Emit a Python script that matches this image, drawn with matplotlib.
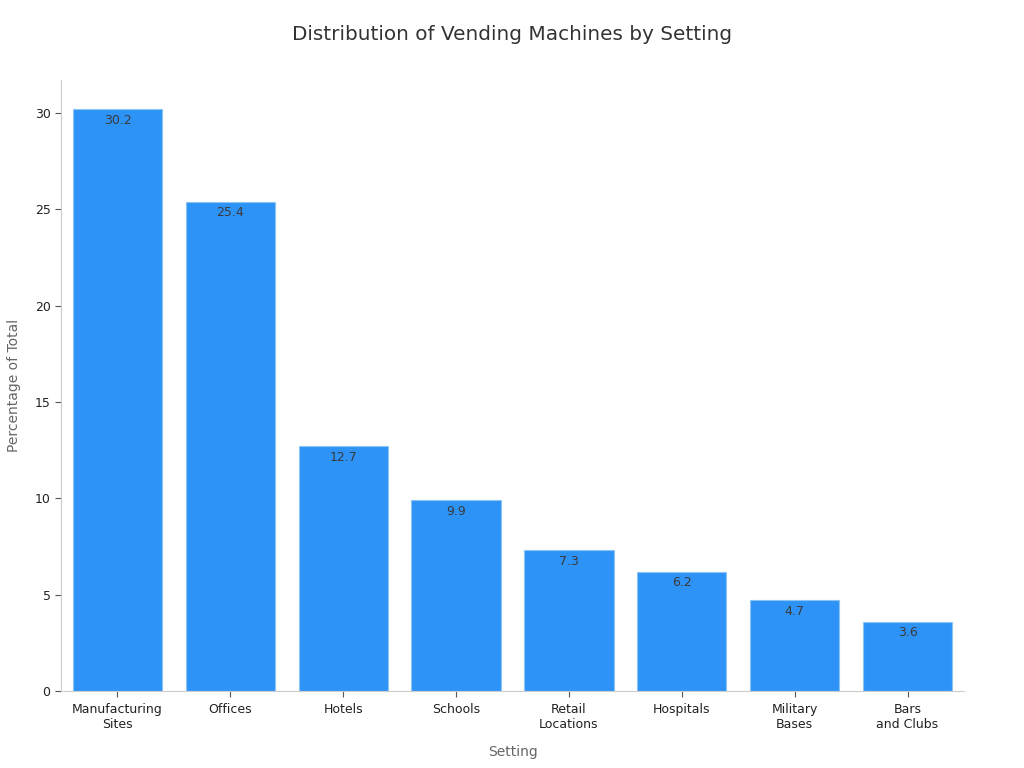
import matplotlib
matplotlib.use("Agg")
import matplotlib.pyplot as plt

# data
settings = ["Manufacturing\nSites", "Offices", "Hotels", "Schools",
            "Retail\nLocations", "Hospitals", "Military\nBases", "Bars\nand Clubs"]
percentages = [30.2, 25.4, 12.7, 9.9, 7.3, 6.2, 4.7, 3.6]

plt.rcParams['font.family'] = ['DejaVu Sans']

fig = plt.figure(figsize=(10.24, 7.68), dpi=100)
ax = fig.add_axes([0.0596, 0.1003, 0.8818, 0.7955])

bars = ax.bar(range(len(settings)), percentages, width=0.79,
              color='#2E93F7', edgecolor='#8CC4F5', linewidth=0.8)

for b, v in zip(bars, percentages):
    ax.text(b.get_x() + b.get_width() / 2, v - 0.25, f"{v}",
            ha='center', va='top', fontsize=9, color='#3a3a3a')

ax.set_xlim(-0.5, 7.5)
ax.set_ylim(0, 31.71)
ax.set_xticks(range(len(settings)))
ax.set_xticklabels(settings, fontsize=9, color='#222222')
ax.set_yticks([0, 5, 10, 15, 20, 25, 30])
ax.tick_params(axis='y', labelsize=9, labelcolor='#222222', color='#555555', length=4)
ax.tick_params(axis='x', color='#555555', length=4, pad=4.5)

for s in ['top', 'right']:
    ax.spines[s].set_visible(False)
for s in ['left', 'bottom']:
    ax.spines[s].set_color('#cccccc')

ax.set_xlabel("Setting", fontsize=10, color='#666666', labelpad=10)
ax.set_ylabel("Percentage of Total", fontsize=10, color='#666666', labelpad=10)
fig.suptitle("Distribution of Vending Machines by Setting", fontsize=14.4,
             color='#333333', y=0.968)

fig.savefig("out.png", dpi=100)
